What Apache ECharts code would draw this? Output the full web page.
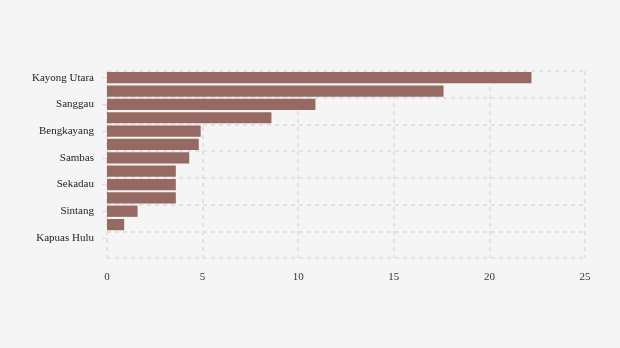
<!DOCTYPE html>
<html>
<head>
<meta charset="utf-8">
<script src="https://cdn.jsdelivr.net/npm/echarts@6/dist/echarts.min.js"></script>
<style>
  html, body { margin: 0; padding: 0; background: #f5f5f5; }
  #chart { width: 620px; height: 348px; }
</style>
</head>
<body>
<div id="chart"></div>
<script>
// Regencies and cities, top to bottom
const regions = [
  'Kayong Utara', 'Ketapang', 'Sanggau', 'Kubu Raya', 'Bengkayang', 'Landak',
  'Sambas', 'Mempawah', 'Sekadau', 'Melawi', 'Sintang', 'Kota Singkawang',
  'Kapuas Hulu', 'Kota Pontianak'
];
const values = [22.2, 17.6, 10.9, 8.6, 4.9, 4.8, 4.3, 3.6, 3.6, 3.6, 1.6, 0.9, 0, 0];
const xTicks = [0, 5, 10, 15, 20, 25];

const chart = echarts.init(document.getElementById('chart'), null, { renderer: 'canvas' });

const gridLine = { show: true, lineStyle: { color: '#dcdcdc', type: [4, 4], width: 1.5 } };
const font = 'Liberation Serif, Times New Roman, serif';

chart.setOption({
  backgroundColor: '#f5f5f5',
  animation: false,
  grid: { left: 107, right: 35, top: 71, bottom: 90, containLabel: false },
  xAxis: {
    type: 'value',
    min: xTicks[0],
    max: xTicks[xTicks.length - 1],
    interval: 5,
    axisLine: { show: false },
    axisTick: { show: false },
    axisLabel: { color: '#333', fontFamily: font, fontSize: 11, margin: 14 },
    splitLine: gridLine
  },
  yAxis: {
    type: 'category',
    data: regions,
    inverse: true,
    axisLine: { show: false },
    axisTick: { show: true, alignWithLabel: true, length: 5, lineStyle: { color: '#dcdcdc' } },
    axisLabel: { color: '#222', fontFamily: font, fontSize: 11, margin: 13, interval: 1, padding: [2, 0, 0, 0] },
    splitLine: { show: true, interval: 1, lineStyle: gridLine.lineStyle }
  },
  series: [{
    type: 'bar',
    data: values,
    barCategoryGap: '16%',
    itemStyle: { color: '#966a62', borderWidth: 0 }
  }]
});
</script>
</body>
</html>
